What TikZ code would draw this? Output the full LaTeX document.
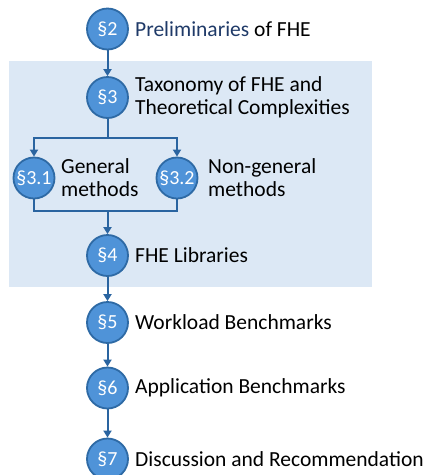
\documentclass[tikz,border=0pt]{standalone}
\usepackage{fontspec}
\setmainfont{Carlito}
\usetikzlibrary{arrows.meta}
\definecolor{circfill}{HTML}{4F93D8}
\definecolor{circedge}{HTML}{2E6AA5}
\definecolor{linec}{HTML}{2A64A0}
\definecolor{boxc}{HTML}{DCE8F5}
\definecolor{navy}{HTML}{1F3A68}
\tikzset{
  sec/.style={circle, fill=circfill, draw=circedge, line width=1.8pt, minimum size=41pt, inner sep=0pt, text=white, font=\fontsize{20}{22}\selectfont},
  lab/.style={anchor=west, align=left, inner sep=0pt, font=\fontsize{21.5}{23}\selectfont, text=black},
  conn/.style={draw=linec, line width=2pt},
  arr/.style={conn, -{Triangle[width=8pt,length=7pt]}},
}
\begin{document}
\begin{tikzpicture}[x=1pt,y=-1pt]
\useasboundingbox (0,0) rectangle (427,475);
\fill[boxc] (9,61) rectangle (372,287);
\node[sec] (s2) at (107.5,29) {§2};
\node[sec] (s3) at (107.5,97.5) {§3};
\node[sec] (s31) at (34,178) {§3.1};
\node[sec] (s32) at (177,178) {§3.2};
\node[sec] (s4) at (107.5,255.5) {§4};
\node[sec] (s5) at (107.5,322.5) {§5};
\node[sec] (s6) at (107.5,388) {§6};
\node[sec] (s7) at (107.5,459) {§7};
\node[lab] (l2) at (135,29) {\textcolor{navy}{Preliminaries} of FHE};
\node[lab] (l3) at (135,97.5) {Taxonomy of FHE and\\Theoretical Complexities};
\node[lab] (l31) at (61,178) {General\\methods};
\node[lab] (l32) at (208,178) {Non-general\\methods};
\node[lab] (l4) at (135,255.5) {FHE Libraries};
\node[lab] (l5) at (135,322.5) {Workload Benchmarks};
\node[lab] (l6) at (135,388) {Application Benchmarks};
\node[lab] (l7) at (135,459) {Discussion and Recommendation};
\coordinate (split) at (107.5,137.5);
\coordinate (join) at (107.5,211);
\draw[arr] (s2) -- (s3);
\draw[conn] (s3.south) -- (split);
\draw[arr] (split) -| (s31.north);
\draw[arr] (split) -| (s32.north);
\draw[conn] (s31.south) |- (join);
\draw[conn] (s32.south) |- (join);
\draw[arr] (join) -- (s4.north);
\draw[arr] (s4) -- (s5);
\draw[arr] (s5) -- (s6);
\draw[arr] (s6) -- (s7);
\end{tikzpicture}
\end{document}
